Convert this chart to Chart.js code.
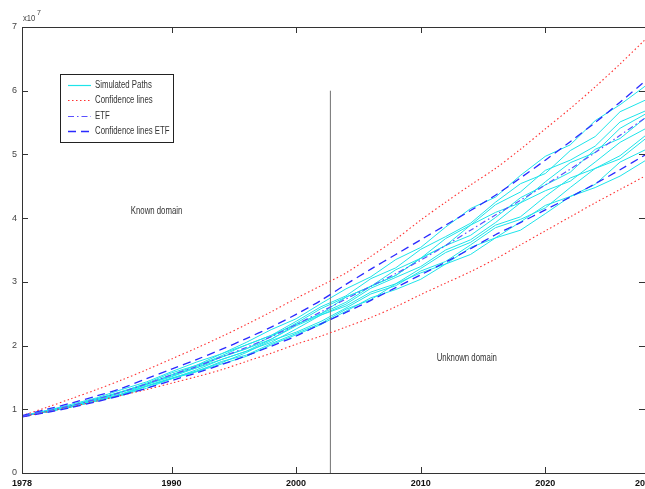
<!DOCTYPE html>
<html>
<head>
<meta charset="utf-8">
<script src="https://cdn.jsdelivr.net/npm/chart.js@4.4.1/dist/chart.umd.min.js"></script>
<style>
html, body { margin: 0; padding: 0; background: #fff; overflow: hidden; }
#wrap { position: relative; width: 660px; height: 489px; }
</style>
</head>
<body>
<div id="wrap"><canvas id="chart"></canvas></div>
<script>
// values in units of 1e7
const years = [1978,1980,1982,1984,1986,1988,1990,1992,1994,1996,1998,2000,2002,2004,2006,2008,2010,2012,2014,2016,2018,2020,2022,2024,2026,2028];
const xTicks = [1978, 1990, 2000, 2010, 2020, 2028];
const yTicks = [0, 1, 2, 3, 4, 5, 6, 7];
const splitYear = 2002.75;
const splitTop = 6;

const confUpper = [0.90,1.03,1.17,1.31,1.46,1.62,1.79,1.96,2.14,2.33,2.53,2.74,2.94,3.14,3.40,3.67,3.97,4.25,4.52,4.78,5.08,5.40,5.72,6.06,6.42,6.80];
const confLower = [0.88,0.96,1.04,1.13,1.22,1.31,1.41,1.51,1.62,1.75,1.88,2.02,2.15,2.29,2.44,2.61,2.80,2.98,3.16,3.36,3.58,3.80,4.02,4.24,4.45,4.66];
const etf       = [0.89,0.97,1.06,1.16,1.27,1.40,1.54,1.67,1.82,1.97,2.14,2.33,2.53,2.73,2.93,3.13,3.34,3.57,3.81,4.05,4.28,4.52,4.77,5.03,5.30,5.57];
const etfUpper  = [0.90,1.00,1.10,1.21,1.33,1.48,1.63,1.78,1.94,2.11,2.29,2.49,2.71,2.96,3.20,3.43,3.66,3.89,4.12,4.36,4.63,4.91,5.20,5.50,5.82,6.15];
const etfLower  = [0.88,0.95,1.03,1.12,1.22,1.33,1.45,1.57,1.70,1.84,1.99,2.15,2.34,2.52,2.71,2.91,3.11,3.31,3.52,3.74,3.93,4.13,4.33,4.54,4.76,4.99];

const pathA = [0.89,0.98,1.08,1.18,1.31,1.43,1.59,1.74,1.87,2.05,2.25,2.42,2.66,2.89,3.08,3.35,3.54,3.86,4.15,4.33,4.67,4.97,5.15,5.53,5.78,6.07];
const pathB = [0.89,0.96,1.06,1.17,1.27,1.41,1.57,1.69,1.87,2.01,2.16,2.38,2.61,2.78,3.05,3.22,3.51,3.71,3.92,4.25,4.54,4.70,5.06,5.28,5.67,5.85];
const pathC = [0.89,0.98,1.06,1.15,1.27,1.39,1.54,1.69,1.82,1.95,2.14,2.35,2.58,2.76,2.93,3.19,3.37,3.68,3.89,4.21,4.41,4.75,4.91,5.13,5.51,5.68];
const pathD = [0.89,0.97,1.05,1.16,1.28,1.40,1.52,1.67,1.84,2.01,2.16,2.33,2.50,2.76,2.93,3.10,3.37,3.57,3.89,4.09,4.24,4.57,4.87,5.03,5.41,5.63];
const pathE = [0.89,0.96,1.04,1.15,1.27,1.39,1.51,1.65,1.82,1.95,2.10,2.33,2.50,2.68,2.93,3.10,3.37,3.57,3.73,4.01,4.32,4.52,4.72,5.08,5.25,5.57];
const pathF = [0.89,0.98,1.06,1.15,1.24,1.39,1.54,1.65,1.78,1.91,2.10,2.31,2.48,2.65,2.90,3.07,3.24,3.50,3.66,3.93,4.24,4.43,4.58,4.88,5.19,5.40];
const pathG = [0.89,0.96,1.04,1.13,1.24,1.36,1.48,1.62,1.78,1.91,2.05,2.26,2.48,2.62,2.84,2.97,3.21,3.46,3.62,3.89,4.02,4.34,4.63,4.78,4.98,5.29];
const pathH = [0.89,0.97,1.05,1.14,1.23,1.37,1.49,1.60,1.73,1.89,2.08,2.21,2.38,2.59,2.81,2.94,3.17,3.32,3.58,3.85,3.98,4.16,4.48,4.78,4.93,5.24];
const pathI = [0.89,0.96,1.04,1.13,1.22,1.36,1.48,1.59,1.75,1.85,2.03,2.19,2.35,2.57,2.72,2.97,3.14,3.28,3.54,3.69,3.94,4.20,4.34,4.53,4.88,5.07];
const pathJ = [0.89,0.96,1.04,1.13,1.22,1.33,1.48,1.59,1.71,1.83,2.01,2.17,2.33,2.54,2.75,2.88,3.04,3.28,3.43,3.69,3.81,4.07,4.34,4.48,4.66,4.90];
const paths = [pathA, pathB, pathC, pathD, pathE, pathF, pathG, pathH, pathI, pathJ];

const FONT = "'Liberation Sans', Arial, sans-serif";
const CYAN = '#1ee4ea';
const RED = '#ff3030';
const BLUE = '#2a2aff';
const ETFBLUE = '#5a50ff';

function pts(values) {
    return values.map((v, i) => ({ x: years[i], y: v }));
}

const datasets = [];

paths.forEach(function (p, i) {
    datasets.push({
        label: 'Simulated Paths', data: pts(p), borderColor: CYAN, borderWidth: 1,
        pointRadius: 0, tension: 0, order: 5, legend: i === 0
    });
});

datasets.push({ label: 'Confidence lines', data: pts(confUpper), borderColor: RED, borderWidth: 1.1,
    borderDash: [1.5, 2.5], pointRadius: 0, tension: 0.3, order: 3, legend: true });
datasets.push({ label: 'Confidence lines', data: pts(confLower), borderColor: RED, borderWidth: 1.1,
    borderDash: [1.5, 2.5], pointRadius: 0, tension: 0.3, order: 3, legend: false });
datasets.push({ label: 'ETF', data: pts(etf), borderColor: ETFBLUE, borderWidth: 1.2,
    borderDash: [6, 3, 1.5, 3], pointRadius: 0, tension: 0.3, order: 1, legend: true });
datasets.push({ label: 'Confidence lines ETF', data: pts(etfUpper), borderColor: BLUE, borderWidth: 1.3,
    borderDash: [8, 5], pointRadius: 0, tension: 0.3, order: 2, legend: true });
datasets.push({ label: 'Confidence lines ETF', data: pts(etfLower), borderColor: BLUE, borderWidth: 1.3,
    borderDash: [8, 5], pointRadius: 0, tension: 0.3, order: 2, legend: false });
datasets.push({ label: 'split', data: [{ x: splitYear, y: 0 }, { x: splitYear, y: splitTop }],
    borderColor: '#707070', borderWidth: 1, pointRadius: 0, order: 4, legend: false });

function condensedText(ctx, text, x, y, squeeze) {
    ctx.fillText(text, x, y, ctx.measureText(text).width * squeeze);
}

const matlabAxes = {
    id: 'matlabAxes',
    afterDraw(chart) {
        const ctx = chart.ctx;
        const a = chart.chartArea;
        const xs = chart.scales.x;
        const ys = chart.scales.y;
        ctx.save();

        // box
        ctx.strokeStyle = '#333';
        ctx.lineWidth = 1;
        ctx.strokeRect(Math.round(a.left) + 0.5, Math.round(a.top) + 0.5,
            Math.round(a.right - a.left), Math.round(a.bottom - a.top));

        // inward ticks
        ctx.beginPath();
        xTicks.slice(1, -1).forEach(function (t) {
            const px = Math.round(xs.getPixelForValue(t)) + 0.5;
            ctx.moveTo(px, a.bottom); ctx.lineTo(px, a.bottom - 6);
            ctx.moveTo(px, a.top); ctx.lineTo(px, a.top + 6);
        });
        yTicks.slice(1, -1).forEach(function (t) {
            const py = Math.round(ys.getPixelForValue(t)) + 0.5;
            ctx.moveTo(a.left, py); ctx.lineTo(a.left + 6, py);
            ctx.moveTo(a.right, py); ctx.lineTo(a.right - 6, py);
        });
        ctx.stroke();

        // exponent
        ctx.fillStyle = '#444';
        ctx.textBaseline = 'alphabetic';
        ctx.textAlign = 'left';
        ctx.font = '9px ' + FONT;
        condensedText(ctx, 'x10', a.left + 1, a.top - 6, 0.85);
        ctx.font = '7px ' + FONT;
        ctx.fillText('7', a.left + 15, a.top - 12);

        // domain labels
        ctx.fillStyle = '#333';
        ctx.font = '10px ' + FONT;
        ctx.textAlign = 'center';
        ctx.textBaseline = 'middle';
        condensedText(ctx, 'Known domain', xs.getPixelForValue(1988.8), ys.getPixelForValue(4.11), 0.78);
        condensedText(ctx, 'Unknown domain', xs.getPixelForValue(2013.7), ys.getPixelForValue(1.8), 0.78);

        // legend
        const items = chart.data.datasets.filter(d => d.legend);
        const lx = a.left + 38, ly = a.top + 47, lw = 113, lh = 68;
        ctx.fillStyle = '#fff';
        ctx.fillRect(lx, ly, lw, lh);
        ctx.strokeStyle = '#222';
        ctx.lineWidth = 1;
        ctx.setLineDash([]);
        ctx.strokeRect(lx + 0.5, ly + 0.5, lw, lh);
        ctx.font = '10px ' + FONT;
        ctx.textAlign = 'left';
        ctx.textBaseline = 'middle';
        items.forEach(function (d, i) {
            const yy = Math.round(ly + 11 + i * 15.3) + 0.5;
            ctx.strokeStyle = d.borderColor;
            ctx.lineWidth = Math.max(d.borderWidth, 1.2);
            ctx.setLineDash(d.borderDash || []);
            ctx.beginPath();
            ctx.moveTo(lx + 8, yy);
            ctx.lineTo(lx + 31, yy);
            ctx.stroke();
            ctx.setLineDash([]);
            ctx.fillStyle = '#333';
            condensedText(ctx, d.label, lx + 35, yy, 0.78);
        });
        ctx.restore();
    }
};

new Chart(document.getElementById('chart'), {
    type: 'line',
    data: { datasets: datasets },
    options: {
        responsive: true,
        maintainAspectRatio: false,
        animation: false,
        events: [],
        layout: { padding: { top: 27, right: 14, bottom: 0, left: 0 } },
        plugins: { legend: { display: false }, tooltip: { enabled: false } },
        scales: {
            x: {
                type: 'linear', min: 1978, max: 2028,
                afterBuildTicks: function (axis) { axis.ticks = xTicks.map(v => ({ value: v })); },
                afterFit: function (axis) { axis.height = 16; },
                grid: { display: false, drawTicks: false },
                border: { display: false },
                ticks: {
                    autoSkip: false, maxRotation: 0, padding: 5, color: '#111',
                    font: { family: FONT, size: 9, weight: 'bold' },
                    callback: v => String(v)
                }
            },
            y: {
                min: 0, max: 7,
                afterBuildTicks: function (axis) { axis.ticks = yTicks.map(v => ({ value: v })); },
                afterFit: function (axis) { axis.width = 22; },
                grid: { display: false, drawTicks: false },
                border: { display: false },
                ticks: {
                    padding: 5, color: '#444',
                    font: { family: FONT, size: 9 },
                    callback: v => String(v)
                }
            }
        }
    },
    plugins: [matlabAxes]
});
</script>
</body>
</html>
